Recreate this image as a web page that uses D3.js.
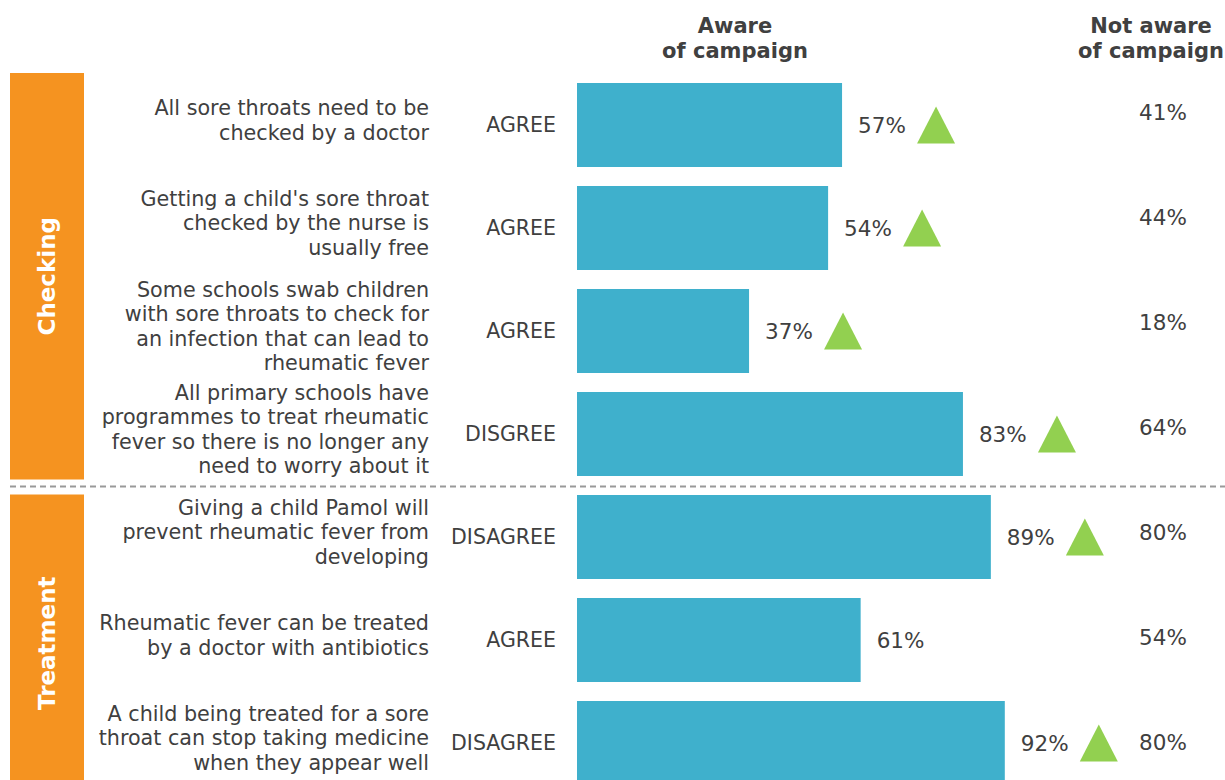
<!DOCTYPE html>
<html>
<head>
<meta charset="utf-8">
<script src="https://cdn.jsdelivr.net/npm/d3@7"></script>
<style>
  html, body { margin: 0; padding: 0; background: #fff; }
  svg { display: block; font-family: "DejaVu Sans", Verdana, sans-serif; }
</style>
</head>
<body>
<svg id="chart" width="1225" height="780"></svg>
<script>
// Survey statements (wrapped as they are printed)
const statements = [
  ["All sore throats need to be", "checked by a doctor"],
  ["Getting a child's sore throat", "checked by the nurse is", "usually free"],
  ["Some schools swab children", "with sore throats to check for", "an infection that can lead to", "rheumatic fever"],
  ["All primary schools have", "programmes to treat rheumatic", "fever so there is no longer any", "need to worry about it"],
  ["Giving a child Pamol will", "prevent rheumatic fever from", "developing"],
  ["Rheumatic fever can be treated", "by a doctor with antibiotics"],
  ["A child being treated for a sore", "throat can stop taking medicine", "when they appear well"]
];
// Correct response for each statement
const responses = ["AGREE", "AGREE", "AGREE", "DISGREE", "DISAGREE", "AGREE", "DISAGREE"];
// % giving the correct response
const awareValues = [57, 54, 37, 83, 89, 61, 92];
const notAwareValues = [41, 44, 18, 64, 80, 54, 80];
// Significantly higher among those aware of the campaign
const significantlyHigher = [true, true, true, true, true, false, true];
// Statement groups
const groupNames = ["Checking", "Treatment"];
const groupStarts = [0, 4];
const groupEnds = [3, 6];
// Column headers
const awareHeader = ["Aware", "of campaign"];
const notAwareHeader = ["Not aware", "of campaign"];

const svg = d3.select("#chart");
const textColor = "#404040";
const barColor = "#3FB0CC";
const triColor = "#92D050";
const groupColor = "#F59320";

const rows = d3.range(statements.length);

const y = d3.scaleBand()
  .domain(rows)
  .range([73.5, 794.5])
  .paddingInner(0.1845)
  .paddingOuter(0.0922);

const x = d3.scaleLinear().domain([0, 100]).range([577, 1042]);

// Not-aware column positions
const yNot = d3.scalePoint().domain(rows).range([112, 742]);

// Group boxes and separator
const sepY = (y(groupEnds[0]) + y.bandwidth() + y(groupStarts[1])) / 2 + 1;
const groupTops = [73, sepY + 8];
const groupBottoms = [sepY - 7, 792];

const groups = svg.append("g").selectAll("g")
  .data(groupNames)
  .join("g");

groups.append("rect")
  .attr("x", 10)
  .attr("width", 74)
  .attr("y", (d, i) => groupTops[i])
  .attr("height", (d, i) => groupBottoms[i] - groupTops[i])
  .attr("fill", groupColor);

groups.append("text")
  .attr("transform", (d, i) => `translate(47,${(groupTops[i] + groupBottoms[i]) / 2}) rotate(-90)`)
  .attr("text-anchor", "middle")
  .attr("dy", "0.36em")
  .attr("fill", "#fff")
  .attr("font-weight", "bold")
  .attr("font-size", 23)
  .text(d => d);

svg.append("line")
  .attr("x1", 10).attr("x2", 1225)
  .attr("y1", sepY).attr("y2", sepY)
  .attr("stroke", "#999")
  .attr("stroke-width", 2)
  .attr("stroke-dasharray", "6,4");

// Headers
const header = (lines, cx) => {
  svg.append("g").selectAll("text")
    .data(lines)
    .join("text")
    .attr("x", cx)
    .attr("y", (d, i) => 25 + i * 25)
    .attr("dy", "0.36em")
    .attr("text-anchor", "middle")
    .attr("font-weight", "bold")
    .attr("font-size", 21)
    .attr("fill", textColor)
    .text(d => d);
};
header(awareHeader, 735);
header(notAwareHeader, 1151);

const rowG = svg.append("g").selectAll("g")
  .data(rows)
  .join("g");

// Statement text
const lineH = 24.5;
rowG.each(function (i) {
  const lines = statements[i];
  const cy = y(i) + y.bandwidth() / 2 - 5;
  d3.select(this).append("g").selectAll("text")
    .data(lines)
    .join("text")
    .attr("x", 429)
    .attr("y", (d, k) => cy + (k - (lines.length - 1) / 2) * lineH)
    .attr("dy", "0.36em")
    .attr("text-anchor", "end")
    .attr("font-size", 20.7)
    .attr("fill", textColor)
    .text(d => d);
});

// Response label
rowG.append("text")
  .attr("x", 556)
  .attr("y", i => y(i) + y.bandwidth() / 2)
  .attr("dy", "0.36em")
  .attr("text-anchor", "end")
  .attr("font-size", 20.5)
  .attr("fill", textColor)
  .text(i => responses[i]);

// Bars
rowG.append("rect")
  .attr("x", x(0))
  .attr("y", i => y(i))
  .attr("width", i => x(awareValues[i]) - x(0))
  .attr("height", y.bandwidth())
  .attr("fill", barColor);

// Value labels
rowG.append("text")
  .attr("x", i => x(awareValues[i]) + 16)
  .attr("y", i => y(i) + y.bandwidth() / 2)
  .attr("dy", "0.36em")
  .attr("font-size", 21.5)
  .attr("fill", textColor)
  .text(i => awareValues[i] + "%");

// Significance triangles
const triW = 38, triH = 37;
rowG.filter(i => significantlyHigher[i])
  .append("path")
  .attr("d", i => {
    const x0 = x(awareValues[i]) + 75;
    const yc = y(i) + y.bandwidth() / 2;
    return `M${x0},${yc + triH / 2} L${x0 + triW / 2},${yc - triH / 2} L${x0 + triW},${yc + triH / 2} Z`;
  })
  .attr("fill", triColor);

// Not-aware values
rowG.append("text")
  .attr("x", 1163)
  .attr("y", i => yNot(i))
  .attr("dy", "0.36em")
  .attr("text-anchor", "middle")
  .attr("font-size", 21.5)
  .attr("fill", textColor)
  .text(i => notAwareValues[i] + "%");
</script>
</body>
</html>
